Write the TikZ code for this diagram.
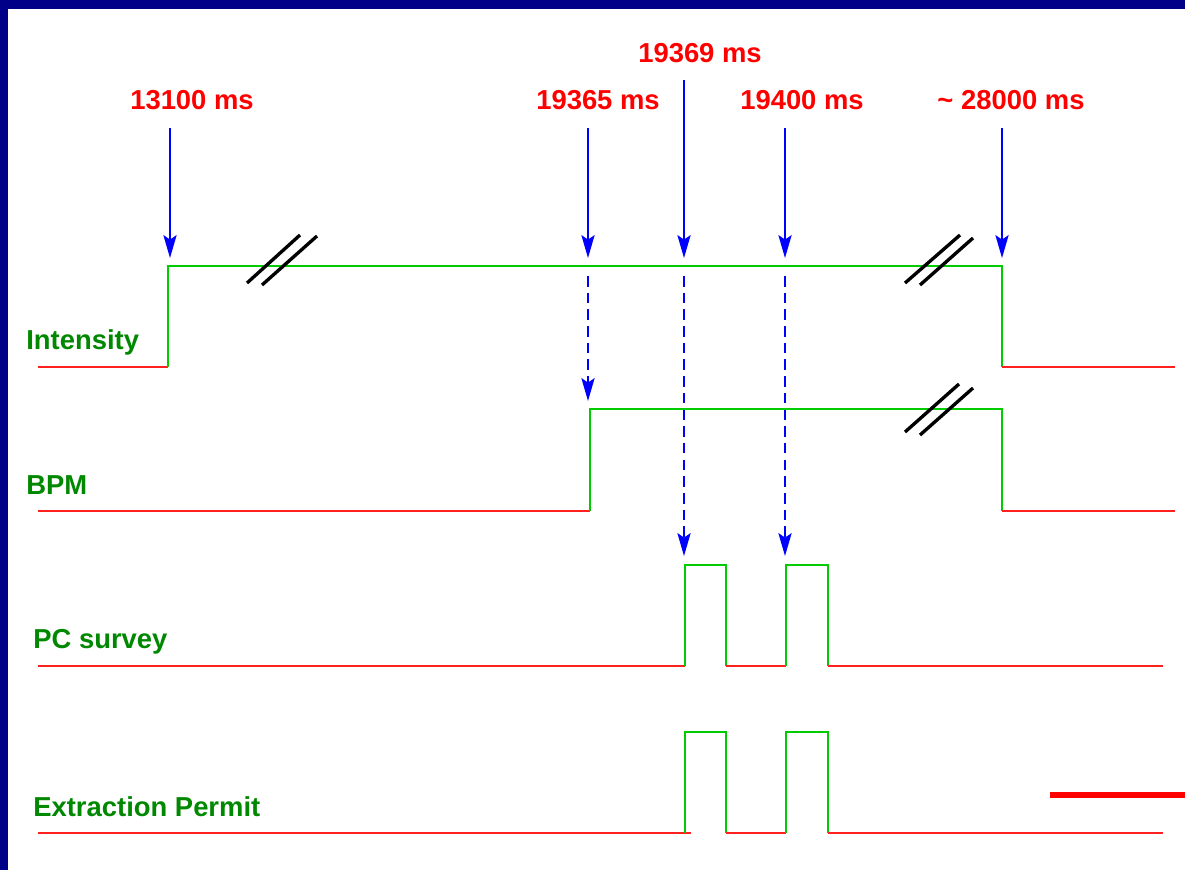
\documentclass[tikz,border=0pt]{standalone}
\usepackage{fontspec}
\setmainfont{Liberation Sans}
\usepackage{tikz}
\usetikzlibrary{arrows.meta}
\definecolor{framenavy}{HTML}{000088}
\definecolor{timered}{HTML}{FF0000}
\definecolor{sigred}{HTML}{FF2020}
\definecolor{siggreen}{HTML}{00CC00}
\definecolor{labgreen}{HTML}{008800}
\definecolor{arrblue}{HTML}{0000FF}

\begin{document}
\begin{tikzpicture}[x=0.02cm, y=-0.02cm,
    low/.style={sigred, line width=1.1pt},
    high/.style={siggreen, line width=1.1pt},
    timelabel/.style={timered, font=\fontsize{15.6}{18}\selectfont\bfseries, anchor=base, inner sep=0pt},
    siglabel/.style={labgreen, font=\fontsize{15.6}{18}\selectfont\bfseries, anchor=base west, inner sep=0pt},
    trigger/.style={arrblue, line width=1.1pt, -{Stealth[length=13pt, width=7.5pt, inset=2.5pt]}},
    follow/.style={trigger, dash pattern=on 6pt off 3.5pt},
    breakmark/.style={black, line width=1.9pt}]
    % Frame
    \fill[framenavy] (0,0) rectangle (1185,870);
    \fill[white] (8,9) rectangle (1185,870);
    \useasboundingbox (0,0) rectangle (1185,870);

    % Time labels
    \node[timelabel] (t13100) at (192,109) {13100 ms};
    \node[timelabel] (t19365) at (598,109) {19365 ms};
    \node[timelabel] (t19369) at (700,62) {19369 ms};
    \node[timelabel] (t19400) at (802,109) {19400 ms};
    \node[timelabel] (t28000) at (1011,109) {\textasciitilde{} 28000 ms};

    % Signal names
    \node[siglabel] (intensity) at (26,349) {Intensity};
    \node[siglabel] (bpm) at (26,494) {BPM};
    \node[siglabel] (pcsurvey) at (33,648) {PC survey};
    \node[siglabel] (permit) at (33,816) {Extraction Permit};

    % Intensity
    \draw[low] (38,367) -- (168,367);
    \draw[high] (168,367) -- (168,266) -- (1002,266) -- (1002,367);
    \draw[low] (1002,367) -- (1175,367);

    % BPM
    \draw[low] (38,511) -- (590,511);
    \draw[high] (590,511) -- (590,409) -- (1002,409) -- (1002,511);
    \draw[low] (1002,511) -- (1175,511);

    % PC survey
    \draw[low] (38,666) -- (685,666);
    \draw[high] (685,666) -- (685,565) -- (726,565) -- (726,666);
    \draw[low] (726,666) -- (786,666);
    \draw[high] (786,666) -- (786,565) -- (828,565) -- (828,666);
    \draw[low] (828,666) -- (1163,666);

    % Extraction Permit
    \draw[low] (38,833) -- (691,833);
    \draw[high] (685,833) -- (685,732) -- (726,732) -- (726,833);
    \draw[low] (726,833) -- (786,833);
    \draw[high] (786,833) -- (786,732) -- (828,732) -- (828,833);
    \draw[low] (828,833) -- (1163,833);

    % Trigger arrows
    \coordinate (a13100) at (170,128);
    \coordinate (a19365) at (588,128);
    \coordinate (a19369) at (684,80);
    \coordinate (a19400) at (785,128);
    \coordinate (a28000) at (1002,128);
    \coordinate (b13100) at (170,258);
    \coordinate (b19365) at (588,258);
    \coordinate (b19369) at (684,258);
    \coordinate (b19400) at (785,258);
    \coordinate (b28000) at (1002,258);
    \draw[trigger] (a13100) -- (b13100);
    \draw[trigger] (a19365) -- (b19365);
    \draw[trigger] (a19369) -- (b19369);
    \draw[trigger] (a19400) -- (b19400);
    \draw[trigger] (a28000) -- (b28000);

    % Dashed follow-on arrows
    \coordinate (d19365) at (588,276);
    \coordinate (d19369) at (684,276);
    \coordinate (d19400) at (785,276);
    \coordinate (e19365) at (588,401);
    \coordinate (e19369) at (684,556);
    \coordinate (e19400) at (785,556);
    \draw[follow] (d19365) -- (e19365);
    \draw[follow] (d19369) -- (e19369);
    \draw[follow] (d19400) -- (e19400);

    % Breaks
    \draw[breakmark] (247,283) -- (300,235) (262,285) -- (317,236);
    \draw[breakmark] (905,283) -- (960,235) (920,285) -- (973,238);
    \draw[breakmark] (905,432) -- (959,384) (920,435) -- (973,388);

    % Red bar
    \draw[timered, line width=3.4pt] (1050,795) -- (1185,795);
\end{tikzpicture}
\end{document}
